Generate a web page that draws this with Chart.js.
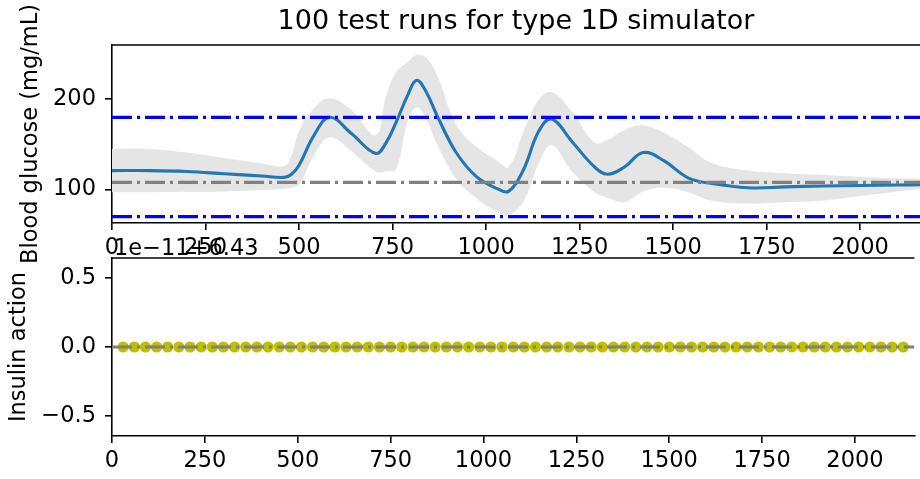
<!DOCTYPE html>
<html>
<head>
<meta charset="utf-8">
<script src="https://cdn.jsdelivr.net/npm/chart.js@4.4.1/dist/chart.umd.min.js"></script>
<style>
  html, body { margin: 0; padding: 0; background: #fff; }
  #wrap { position: relative; width: 920px; height: 479px; overflow: hidden; }
  canvas { position: absolute; left: 0; }
  #glucoseChart { top: 0; }
  #insulinChart { top: 230px; }
</style>
</head>
<body>
<div id="wrap">
  <canvas id="glucoseChart" width="920" height="268"></canvas>
  <canvas id="insulinChart" width="920" height="249"></canvas>
</div>
<script>
// time in minutes
var timeMin = [0, 100, 200, 300, 400, 460, 480, 500, 540, 582, 640, 705, 733, 760, 790, 814, 840, 870, 920, 975,
               1030, 1060, 1100, 1140, 1175, 1230, 1290, 1325, 1370, 1420, 1475, 1540, 1600, 1700, 1800, 1900, 2000, 2100, 2160];
var meanBG  = [121, 121, 120, 117.5, 115, 113.5, 117, 127, 160, 180, 162, 140, 152, 175, 204, 221, 208, 181, 141, 114,
               101, 98, 122, 164, 178, 153, 125, 117, 125, 141, 132, 113, 107, 102, 103, 104, 104.5, 105, 105.5];
var upperBG = [145, 145, 141, 135, 129, 126, 138, 165, 190, 201, 188, 160, 204, 230, 241, 249, 246, 226, 172, 147,
               132, 125, 164, 199, 208, 186, 152, 155, 166, 171, 163, 147, 130, 121, 118, 116, 114, 112.5, 112];
var lowerBG = [97, 97, 97.5, 98, 99.5, 101, 102, 105, 138, 158, 142, 120, 120, 123, 175, 191, 178, 149, 112, 90,
               75, 71.5, 87, 128, 149, 120, 97, 91, 86, 98, 102, 97, 88, 84.5, 86, 88, 93, 98, 101];

var limitTimes = [0, 2160];
var hyperLimit = [180, 180];
var hypoLimit = [70, 70];
var targetBG = [108, 108];

var insulinTimes = [30, 60, 90, 120, 150, 180, 210, 240, 270, 300, 330, 360, 390, 420, 450, 480, 510, 540, 570, 600,
                    630, 660, 690, 720, 750, 780, 810, 840, 870, 900, 930, 960, 990, 1020, 1050, 1080, 1110, 1140, 1170, 1200,
                    1230, 1260, 1290, 1320, 1350, 1380, 1410, 1440, 1470, 1500, 1530, 1560, 1590, 1620, 1650, 1680, 1710, 1740, 1770, 1800,
                    1830, 1860, 1890, 1920, 1950, 1980, 2010, 2040, 2070, 2100, 2130];
var insulinAction = [0, 0, 0, 0, 0, 0, 0, 0, 0, 0, 0, 0, 0, 0, 0, 0, 0, 0, 0, 0,
                     0, 0, 0, 0, 0, 0, 0, 0, 0, 0, 0, 0, 0, 0, 0, 0, 0, 0, 0, 0,
                     0, 0, 0, 0, 0, 0, 0, 0, 0, 0, 0, 0, 0, 0, 0, 0, 0, 0, 0, 0,
                     0, 0, 0, 0, 0, 0, 0, 0, 0, 0, 0];
var insulinBaseline = [0, 0];

var timeTicks = [0, 250, 500, 750, 1000, 1250, 1500, 1750, 2000];
var glucoseTicks = [100, 200];
var insulinTicks = [-0.5, 0, 0.5];
var insulinTickLabels = ['\u22120.5', '0.0', '0.5'];

Chart.defaults.font.family = '"DejaVu Sans", sans-serif';
Chart.defaults.color = '#000';

var dashDot = [20, 5, 3, 5];
var fs = 22.5;

function pairs(xs, ys) {
     return xs.map(function(x, i) { return {x: x, y: ys[i]}; });
}

function xAxis(h) {
     return {
          type: 'linear',
          min: 0,
          max: 2160,
          afterBuildTicks: function(s) { s.ticks = timeTicks.map(function(v) { return {value: v}; }); },
          afterFit: function(s) { s.height = h; },
          grid: { drawOnChartArea: false, drawTicks: true, tickLength: 7, color: '#000', lineWidth: 1.6 },
          border: { color: '#000', width: 1.6 },
          ticks: { padding: 5, maxRotation: 0, autoSkip: false, font: { size: fs }, color: '#000',
                   callback: function(v) { return String(v); } }
     };
}

var topSpine = {
     id: 'topSpine',
     afterDraw: function(chart) {
          var a = chart.chartArea, ctx = chart.ctx;
          ctx.save();
          ctx.strokeStyle = '#000';
          ctx.lineWidth = 1.6;
          ctx.beginPath();
          ctx.moveTo(a.left, a.top);
          ctx.lineTo(a.right, a.top);
          ctx.stroke();
          ctx.restore();
     }
};

var offsetText = {
     id: 'offsetText',
     afterDraw: function(chart) {
          var a = chart.chartArea, ctx = chart.ctx;
          ctx.save();
          ctx.font = fs + 'px "DejaVu Sans"';
          ctx.fillStyle = '#000';
          ctx.textAlign = 'left';
          ctx.textBaseline = 'alphabetic';
          ctx.fillText('1e\u221211+6.43', a.left + 2, a.top - 3);
          ctx.restore();
     }
};

new Chart(document.getElementById('glucoseChart'), {
     type: 'line',
     data: {
          datasets: [
               { label: 'hyper', data: pairs(limitTimes, hyperLimit), borderColor: '#0000ff', borderWidth: 3.2,
                 borderDash: dashDot, pointRadius: 0, fill: false, order: 1 },
               { label: 'hypo', data: pairs(limitTimes, hypoLimit), borderColor: '#0000ff', borderWidth: 3.2,
                 borderDash: dashDot, pointRadius: 0, fill: false, order: 1 },
               { label: 'target', data: pairs(limitTimes, targetBG), borderColor: '#808080', borderWidth: 3.2,
                 borderDash: dashDot, pointRadius: 0, fill: false, order: 1 },
               { label: 'mean', data: pairs(timeMin, meanBG), borderColor: '#1f77b4', borderWidth: 3.1,
                 pointRadius: 0, fill: false, tension: 0.4, order: 2 },
               { label: 'upper', data: pairs(timeMin, upperBG), borderColor: 'rgba(0,0,0,0)', borderWidth: 0,
                 backgroundColor: '#e5e5e5', fill: '+1', pointRadius: 0, tension: 0.4, order: 3 },
               { label: 'lower', data: pairs(timeMin, lowerBG), borderColor: 'rgba(0,0,0,0)', borderWidth: 0,
                 pointRadius: 0, fill: false, tension: 0.4, order: 3 }
          ]
     },
     options: {
          responsive: false,
          animation: false,
          layout: { padding: 0 },
          plugins: {
               legend: { display: false },
               tooltip: { enabled: false },
               title: { display: true, text: '100 test runs for type 1D simulator', fullSize: false,
                        font: { size: 27, weight: 'normal' }, color: '#000', padding: { top: 6, bottom: 6.6 } }
          },
          scales: {
               x: xAxis(45),
               y: {
                    type: 'linear',
                    min: 63,
                    max: 260,
                    afterBuildTicks: function(s) { s.ticks = glucoseTicks.map(function(v) { return {value: v}; }); },
                    afterFit: function(s) { s.width = 112; },
                    grid: { drawOnChartArea: false, drawTicks: true, tickLength: 7, color: '#000', lineWidth: 1.6 },
                    border: { color: '#000', width: 1.6 },
                    ticks: { padding: 9, font: { size: fs }, color: '#000', callback: function(v) { return String(v); } },
                    title: { display: true, text: 'Blood glucose (mg/mL)', font: { size: fs }, color: '#000',
                             padding: { top: 18, bottom: 0 } }
               }
          }
     },
     plugins: [topSpine]
});

new Chart(document.getElementById('insulinChart'), {
     type: 'line',
     data: {
          datasets: [
               { label: 'baseline', data: pairs(limitTimes, insulinBaseline), borderColor: '#808080', borderWidth: 2.8,
                 borderDash: dashDot, pointRadius: 0, fill: false, order: 1 },
               { label: 'insulin', data: pairs(insulinTimes, insulinAction), showLine: false, pointRadius: 5.6,
                 pointBackgroundColor: '#bfbf00', pointBorderWidth: 0, pointBorderColor: '#bfbf00', order: 2 }
          ]
     },
     options: {
          responsive: false,
          animation: false,
          layout: { padding: { top: 28, left: 0, right: 0, bottom: 0 } },
          plugins: {
               legend: { display: false },
               tooltip: { enabled: false }
          },
          scales: {
               x: xAxis(43),
               y: {
                    type: 'linear',
                    min: -0.643,
                    max: 0.643,
                    afterBuildTicks: function(s) { s.ticks = insulinTicks.map(function(v) { return {value: v}; }); },
                    afterFit: function(s) { s.width = 112; },
                    grid: { drawOnChartArea: false, drawTicks: true, tickLength: 7, color: '#000', lineWidth: 1.6 },
                    border: { color: '#000', width: 1.6 },
                    ticks: { padding: 9, font: { size: fs }, color: '#000',
                             callback: function(v, i) { return insulinTickLabels[i]; } },
                    title: { display: true, text: 'Insulin action', font: { size: fs }, color: '#000',
                             padding: { top: 6, bottom: 0 } }
               }
          }
     },
     plugins: [topSpine, offsetText]
});
</script>
</body>
</html>
